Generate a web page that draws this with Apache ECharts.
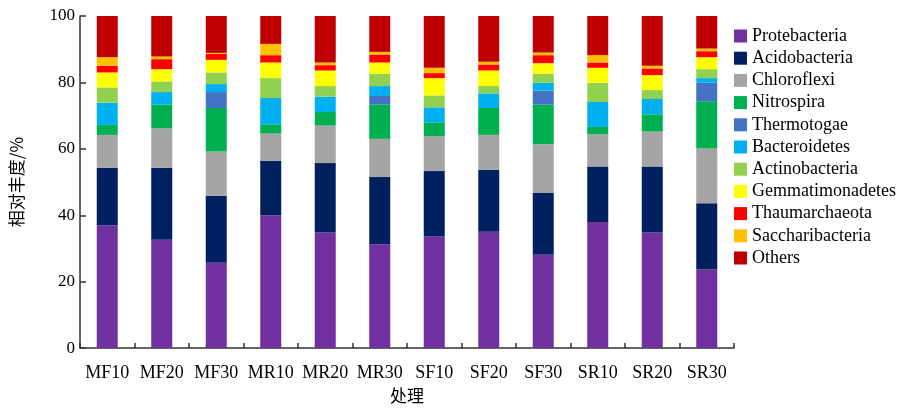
<!DOCTYPE html>
<html>
<head>
<meta charset="utf-8">
<script src="https://cdn.jsdelivr.net/npm/echarts@6/dist/echarts.min.js"></script>
<style>html,body{margin:0;padding:0;background:#fff;}#c{width:904px;height:409px;}</style>
</head>
<body>
<div id="c"></div>
<script>
var categories = ['MF10','MF20','MF30','MR10','MR20','MR30','SF10','SF20','SF30','SR10','SR20','SR30'];
var yTicks = [0, 20, 40, 60, 80, 100];
var seriesNames = ['Protebacteria','Acidobacteria','Chloroflexi','Nitrospira','Thermotogae','Bacteroidetes','Actinobacteria','Gemmatimonadetes','Thaumarchaeota','Saccharibacteria','Others'];
var seriesColors = ['#7030A0','#002060','#A5A5A5','#00B050','#4472C4','#00B0F0','#92D050','#FFFF00','#FF0000','#FFC000','#C00000'];

var protebacteria    = [37.0, 32.6, 25.7, 40.0, 34.8, 31.3, 33.6, 35.0, 28.1, 38.0, 34.8, 23.7];
var acidobacteria    = [17.3, 21.7, 20.2, 16.4, 20.9, 20.2, 19.7, 18.7, 18.6, 16.7, 19.9, 19.9];
var chloroflexi      = [ 9.9, 11.9, 13.3,  8.2, 11.3, 11.5, 10.5, 10.5, 14.7,  9.7, 10.5, 16.5];
var nitrospira       = [ 3.0,  7.1, 13.1,  2.8,  4.1, 10.3,  4.2,  8.1, 11.9,  2.2,  5.2, 14.2];
var thermotogae      = [ 0.0,  0.0,  4.8,  0.0,  0.0,  2.6,  0.0,  0.0,  4.2,  0.0,  0.0,  5.6];
var bacteroidetes    = [ 6.7,  3.8,  2.4,  7.9,  4.6,  3.0,  4.5,  4.4,  2.4,  7.5,  4.6,  1.4];
var actinobacteria   = [ 4.6,  3.2,  3.5,  6.0,  3.2,  3.7,  3.6,  2.2,  2.7,  5.8,  2.7,  2.7];
var gemmatimonadetes = [ 4.5,  3.7,  3.8,  4.7,  4.7,  3.4,  5.2,  4.7,  3.2,  4.5,  4.5,  3.6];
var thaumarchaeota   = [ 2.0,  3.0,  1.8,  2.2,  1.6,  2.4,  1.5,  1.8,  2.4,  1.6,  2.0,  1.8];
var saccharibacteria = [ 2.6,  0.8,  0.3,  3.4,  0.8,  0.8,  1.6,  0.8,  0.8,  2.2,  0.8,  0.8];
var others           = [12.4, 12.2, 11.1,  8.4, 14.0, 10.8, 15.6, 13.8, 11.0, 11.8, 15.0,  9.8];

var seriesData = [protebacteria, acidobacteria, chloroflexi, nitrospira, thermotogae, bacteroidetes, actinobacteria, gemmatimonadetes, thaumarchaeota, saccharibacteria, others];

var serif = '"Liberation Serif", "Times New Roman", serif';
var cjk = '"Noto Sans CJK SC", sans-serif';

var chart = echarts.init(document.getElementById('c'), null, {renderer: 'canvas'});
var series = seriesNames.map(function (n, i) {
  return {
    name: n,
    type: 'bar',
    stack: 'total',
    barWidth: 21,
    data: seriesData[i],
    itemStyle: {color: seriesColors[i]},
    emphasis: {disabled: true}
  };
});

chart.setOption({
  animation: false,
  backgroundColor: '#fff',
  grid: {left: 76, right: 170, top: 16, bottom: 57, containLabel: false},
  legend: {
    orient: 'vertical',
    left: 729,
    top: 22,
    itemWidth: 13,
    itemHeight: 13,
    itemGap: 4.2,
    icon: 'rect',
    data: seriesNames,
    textStyle: {fontFamily: serif, fontSize: 18, color: '#000'}
  },
  xAxis: {
    type: 'category',
    data: categories,
    name: '处理',
    nameLocation: 'middle',
    nameGap: 38,
    nameTextStyle: {fontFamily: cjk, fontSize: 17, color: '#000'},
    axisLine: {lineStyle: {color: '#333', width: 1.5}},
    axisTick: {show: true, inside: true, length: 5, alignWithLabel: false, lineStyle: {color: '#333', width: 1.5}},
    axisLabel: {interval: 0, fontFamily: serif, fontSize: 18, color: '#000', margin: 16}
  },
  yAxis: {
    type: 'value',
    min: yTicks[0],
    max: yTicks[yTicks.length - 1],
    interval: 20,
    name: '相对丰度/%',
    nameLocation: 'middle',
    nameRotate: 90,
    nameGap: 55,
    nameTextStyle: {fontFamily: cjk, fontSize: 17, color: '#000'},
    splitLine: {show: false},
    axisLine: {show: true, lineStyle: {color: '#333', width: 1.5}},
    axisTick: {show: true, inside: true, length: 6, lineStyle: {color: '#333', width: 1.5}},
    axisLabel: {fontFamily: serif, fontSize: 17, color: '#000', margin: 5}
  },
  series: series
});
</script>
</body>
</html>
